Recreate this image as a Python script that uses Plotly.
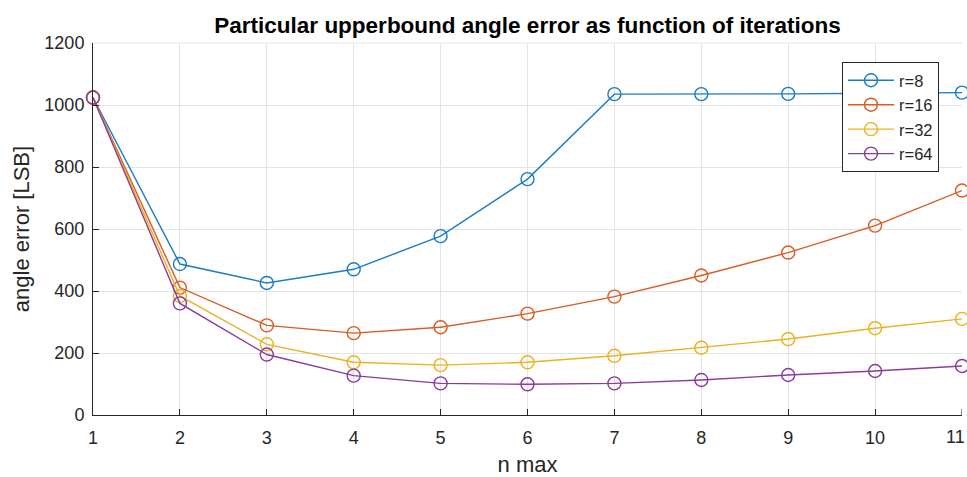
import plotly.graph_objects as go

n_max = [1, 2, 3, 4, 5, 6, 7, 8, 9, 10, 11]
r8 = [1024, 487, 426, 470, 577, 761, 1035, 1035, 1036, 1038, 1040]
r16 = [1024, 411, 289, 264, 283, 327, 382, 450, 524, 611, 724]
r32 = [1024, 384, 228, 170, 161, 170, 191, 217, 245, 280, 310]
r64 = [1024, 360, 195, 127, 102, 99, 102, 113, 129, 142, 158]
names = ["r=8", "r=16", "r=32", "r=64"]
colors = ["#1a7cc4", "#DB5a22", "#EDB120", "#8a3c9c"]
series = [r8, r16, r32, r64]
y_ticks = [0, 200, 400, 600, 800, 1000, 1200]

font = "Liberation Sans, Arial, sans-serif"
fig = go.Figure()
for nm, col, ys in zip(names, colors, series):
    fig.add_trace(go.Scatter(
        x=n_max, y=ys, name=nm, mode="lines+markers",
        line=dict(color=col, width=1.4),
        marker=dict(symbol="circle-open", size=13, color=col, line=dict(width=1.4, color=col)),
        cliponaxis=False,
    ))

fig.update_layout(
    width=967, height=477,
    margin=dict(l=93, r=5, t=43, b=62),
    paper_bgcolor="white", plot_bgcolor="white",
    font=dict(family=font, size=18, color="#262626"),
    title=dict(text="<b>Particular upperbound angle error as function of iterations</b>",
               x=(93 + 962) / 2 / 967, xanchor="center", y=1 - 25 / 477, yanchor="middle",
               font=dict(size=22.5, color="black", family=font)),
    xaxis=dict(range=[1, 11], tickmode="array", tickvals=n_max[:-1],
               showgrid=True, gridcolor="#e3e3e3", gridwidth=1,
               showline=True, linecolor="#262626", linewidth=1,
               ticks="inside", ticklen=6, tickcolor="#262626",
               ticklabelstandoff=6, automargin=False,
               zeroline=False, mirror=False,
               title=dict(text="n max", font=dict(size=22), standoff=11)),
    yaxis=dict(range=[0, 1200], tickmode="array", tickvals=y_ticks,
               showgrid=True, gridcolor="#e3e3e3", gridwidth=1,
               showline=True, linecolor="#262626", linewidth=1,
               ticks="inside", ticklen=6, tickcolor="#262626",
               ticklabelstandoff=4, automargin=False,
               zeroline=False,
               title=dict(text="angle error [LSB]", font=dict(size=22), standoff=8)),
    legend=dict(x=(842 - 93) / 869, y=(415 - 62) / 372, xanchor="left", yanchor="top",
                bgcolor="white", bordercolor="#262626", borderwidth=1,
                font=dict(size=16.5, color="#262626"), tracegroupgap=0,
                itemwidth=46),
    showlegend=True,
)
# right-edge tick label
fig.add_annotation(x=n_max[-1], xref="x", y=-22 / 372, yref="paper", yanchor="middle", xanchor="center",
                   xshift=-7, text=str(n_max[-1]), showarrow=False, font=dict(size=18, color="#262626"))
fig.add_shape(type="line", xref="x", yref="paper", x0=n_max[-1], x1=n_max[-1], y0=0, y1=6 / 372,
              line=dict(color="#262626", width=1))
fig.add_shape(type="line", xref="paper", yref="paper", x0=0, x1=1, y0=1, y1=1,
              line=dict(color="#e3e3e3", width=1), layer="below")

fig.write_html("out.html")
